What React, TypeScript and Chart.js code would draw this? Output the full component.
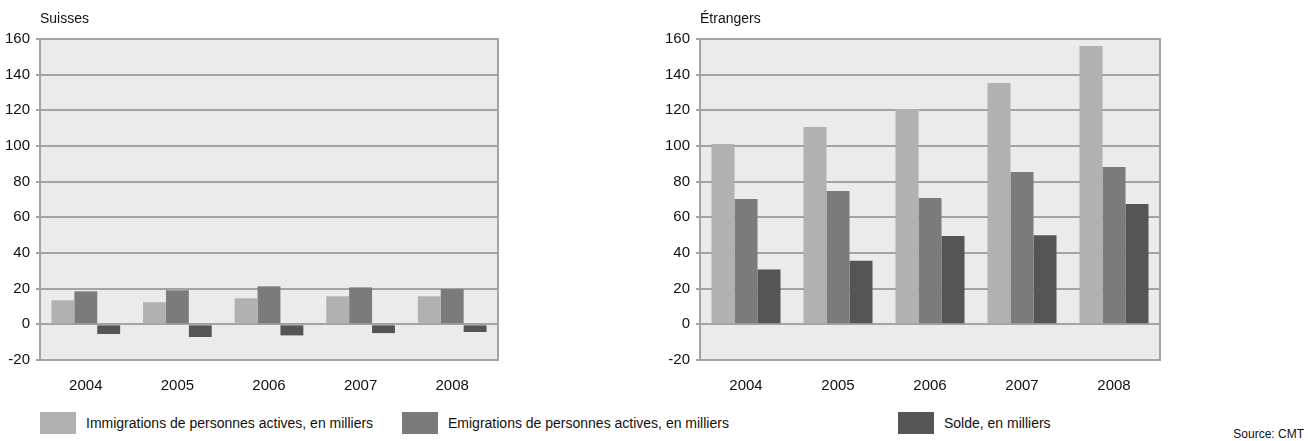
import React, { useEffect, useRef } from "react";
import { Chart, registerables } from "chart.js";

Chart.register(...registerables);

const years = ["2004", "2005", "2006", "2007", "2008"];
const seriesLabels = [
  "Immigrations de personnes actives, en milliers",
  "Emigrations de personnes actives, en milliers",
  "Solde, en milliers",
];
const seriesColors = ["#b1b1b1", "#7b7b7b", "#555555"];

const suissesImmigration = [13.5, 12.4, 14.6, 15.7, 15.7];
const suissesEmigration = [18.5, 19.1, 21.3, 20.7, 19.8];
const suissesSolde = [-5.4, -7.1, -6.2, -4.9, -4.3];

const etrangersImmigration = [101.1, 110.7, 120.7, 135.3, 156.1];
const etrangersEmigration = [70.3, 74.8, 70.8, 85.4, 88.2];
const etrangersSolde = [30.8, 35.6, 49.6, 49.9, 67.5];

const yMin = -20;
const yMax = 160;
const yStep = 20;

const FONT = "'Liberation Sans', Arial, sans-serif";
const TEXT = "#111111";

const bgPlugin = {
  id: "plotBg",
  beforeDraw(chart: any) {
    const { ctx, chartArea } = chart;
    ctx.save();
    ctx.fillStyle = "#ebebeb";
    ctx.fillRect(chartArea.left, chartArea.top, chartArea.right - chartArea.left, chartArea.bottom - chartArea.top);
    ctx.restore();
  },
  afterDraw(chart: any) {
    const { ctx, chartArea } = chart;
    ctx.save();
    ctx.strokeStyle = "#a3a3a3";
    ctx.lineWidth = 2;
    ctx.strokeRect(chartArea.left, chartArea.top, chartArea.right - chartArea.left, chartArea.bottom - chartArea.top);
    const title = chart.options.plugins.panelTitle?.text;
    if (title) {
      ctx.fillStyle = TEXT;
      ctx.font = `14px ${FONT}`;
      ctx.textAlign = "left";
      ctx.textBaseline = "alphabetic";
      ctx.fillText(title, chartArea.left, chartArea.top - 16);
    }
    ctx.restore();
  },
};

function makeConfig(title: string, a: number[], b: number[], c: number[], yAxisWidth: number) {
  const data = [a, b, c];
  return {
    type: "bar" as const,
    data: {
      labels: years,
      datasets: data.map((d, i) => ({
        label: seriesLabels[i],
        data: d,
        backgroundColor: seriesColors[i],
        borderWidth: 0,
        categoryPercentage: 0.75,
        barPercentage: 1.0,
      })),
    },
    options: {
      animation: false,
      responsive: false,
      maintainAspectRatio: false,
      layout: { padding: { top: 39, right: 2, left: 0, bottom: 0 } },
      plugins: {
        legend: { display: false },
        tooltip: { enabled: false },
        panelTitle: { text: title },
      },
      scales: {
        x: {
          grid: { display: false, drawTicks: false },
          border: { display: false },
          ticks: { color: TEXT, font: { family: FONT, size: 15 }, padding: 17 },
          afterFit(s: any) {
            s.height = 40;
          },
        },
        y: {
          min: yMin,
          max: yMax,
          ticks: { stepSize: yStep, color: TEXT, font: { family: FONT, size: 15 }, padding: 6 },
          grid: { color: "#a3a3a3", lineWidth: 2, tickLength: 4, tickColor: "#a3a3a3" },
          border: { display: false },
          afterFit(s: any) {
            s.width = yAxisWidth;
          },
        },
      },
    },
    plugins: [bgPlugin],
  };
}

function Panel(props: { title: string; a: number[]; b: number[]; c: number[]; left: number; width: number; yAxisWidth: number }) {
  const ref = useRef<HTMLCanvasElement>(null);
  useEffect(() => {
    if (!ref.current) return;
    const chart = new Chart(ref.current, makeConfig(props.title, props.a, props.b, props.c, props.yAxisWidth) as any);
    return () => chart.destroy();
  }, []);
  return (
    <canvas
      ref={ref}
      width={props.width}
      height={400}
      style={{ position: "absolute", left: props.left, top: 0, width: props.width, height: 400 }}
    />
  );
}

const legendPositions = [40, 402, 898];

export default function App() {
  return (
    <div style={{ position: "absolute", left: 0, top: 0, width: 1308, height: 441, background: "#fff", fontFamily: FONT, overflow: "hidden" }}>
      <Panel title="Suisses" a={suissesImmigration} b={suissesEmigration} c={suissesSolde} left={0} width={500} yAxisWidth={40} />
      <Panel title="Étrangers" a={etrangersImmigration} b={etrangersEmigration} c={etrangersSolde} left={650} width={512} yAxisWidth={50} />
      {seriesLabels.map((label, i) => (
        <div key={label} style={{ position: "absolute", left: legendPositions[i], top: 412, height: 22, display: "flex", alignItems: "center", whiteSpace: "nowrap" }}>
          <span style={{ display: "inline-block", width: 36, height: 22, background: seriesColors[i], marginRight: 10 }} />
          <span style={{ fontSize: 14, color: TEXT }}>{label}</span>
        </div>
      ))}
      <div style={{ position: "absolute", right: 4, top: 427, fontSize: 12, color: TEXT }}>Source: CMT</div>
    </div>
  );
}
